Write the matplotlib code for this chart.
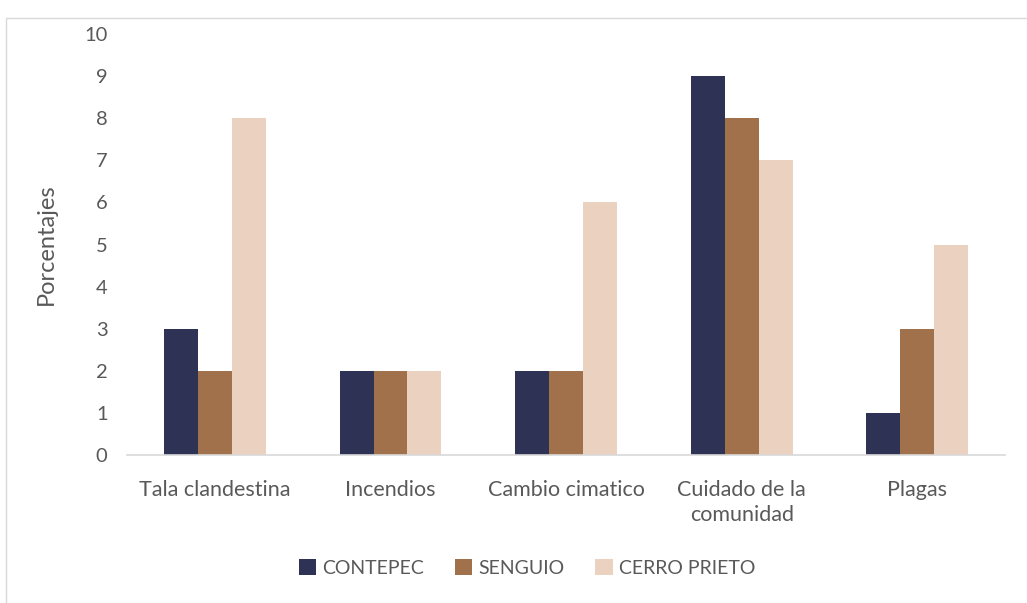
import numpy as np
import matplotlib
matplotlib.use("Agg")
import matplotlib.pyplot as plt
from matplotlib.patches import Rectangle

# data
categories = ["Tala clandestina", "Incendios", "Cambio cimatico", "Cuidado de la\ncomunidad", "Plagas"]
series_names = ["CONTEPEC", "SENGUIO", "CERRO PRIETO"]
contepec = [3, 2, 2, 9, 1]
senguio = [2, 2, 2, 8, 3]
cerro_prieto = [8, 2, 6, 7, 5]
colors = ["#2E3254", "#A0714B", "#EBD2C0"]

plt.rcParams["font.family"] = ["Lato", "DejaVu Sans"]
text_color = "#595959"

fig = plt.figure(figsize=(10.27, 6.03), dpi=100)
ax = fig.add_axes([0.1237, 0.2454, 0.855, 0.6982])

x = np.arange(len(categories))
w = 0.193
for i, (vals, name) in enumerate(zip([contepec, senguio, cerro_prieto], series_names)):
    ax.bar(x + (i - 1) * w, vals, w, color=colors[i], label=name, zorder=2)

ax.set_xlim(-0.5, len(categories) - 0.5)
ax.set_ylim(0, 10)
ax.set_yticks(range(0, 11))
ax.set_xticks(x)
ax.set_xticklabels(categories, fontsize=15.5, color=text_color, linespacing=1.3)
ax.tick_params(axis="y", labelsize=14.5, colors=text_color, length=0, pad=14)
ax.tick_params(axis="x", length=0, pad=18)
for s in ["top", "right", "left"]:
    ax.spines[s].set_visible(False)
ax.spines["bottom"].set_color("#D9D9D9")
ax.spines["bottom"].set_linewidth(1.2)
ax.set_ylabel("Porcentajes", fontsize=17, color=text_color, labelpad=20)

fig.legend(loc="center", bbox_to_anchor=(0.513, 0.058), ncol=3, frameon=False,
           fontsize=14, labelcolor=text_color, handlelength=0.9, handleheight=0.9,
           handletextpad=0.3, columnspacing=1.6)

fig.patches.append(Rectangle((0.006, -0.01), 1.0, 0.98, transform=fig.transFigure,
                             fill=False, edgecolor="#D9D9D9", linewidth=1.0))

fig.savefig("out.png", dpi=100, facecolor="white")
